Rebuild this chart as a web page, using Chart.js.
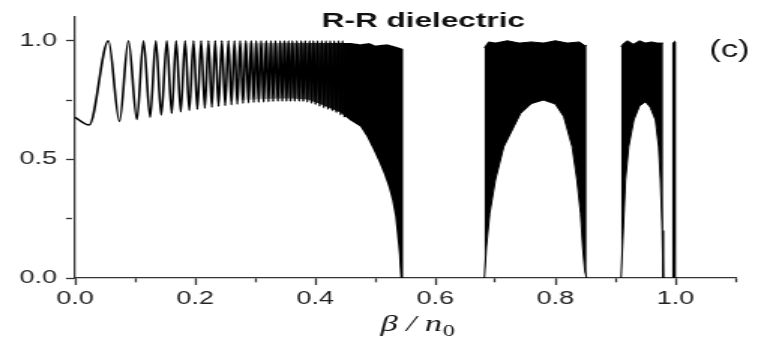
<!DOCTYPE html>
<html>
<head>
<meta charset="utf-8">
<script src="https://cdn.jsdelivr.net/npm/chart.js@4/dist/chart.umd.min.js"></script>
<style>
  html, body { margin: 0; padding: 0; background: #fff; }
  /* the figure is laid out narrow and stretched sideways, like the printed panel */
  #wrap { width: 507px; height: 342px; transform: scaleX(1.50099); transform-origin: 0 0; }
</style>
</head>
<body>
<div id="wrap"><canvas id="rr" width="507" height="342"></canvas></div>
<script>
// transmission vs beta/n0, R-R dielectric
const titleText = 'R-R dielectric';
const panelTag = '(c)';

// low-beta start of the curve (before the first fringe)
const fringeStart = [[0, 0.677], [0.0235, 0.645]];
// fringe maxima positions, all touching 1.0
const fringeTop = 1.0;
const peakX = [0.0555, 0.0889, 0.1139, 0.1345, 0.1528, 0.1683, 0.1833, 0.1972, 0.2100, 0.2222,
  0.2333, 0.2445, 0.2555, 0.2655, 0.2750, 0.2845, 0.2933, 0.3017, 0.3100, 0.3183,
  0.3262, 0.3338, 0.3417, 0.3488, 0.3555, 0.3620, 0.3695, 0.3767, 0.3833, 0.3905,
  0.3970, 0.4038, 0.4110, 0.4178, 0.4250, 0.4317, 0.4388, 0.4455];
// fringe minima following each maximum
const troughX = [0.0740, 0.1030, 0.1250, 0.1435, 0.1610, 0.1760, 0.1903, 0.2036, 0.2161, 0.2278,
  0.2389, 0.2500, 0.2605, 0.2703, 0.2798, 0.2889, 0.2975, 0.3058, 0.3142, 0.3222,
  0.3300, 0.3378, 0.3452, 0.3522, 0.3588, 0.3658, 0.3731, 0.3800, 0.3869, 0.3938,
  0.4004, 0.4074, 0.4144, 0.4214, 0.4284, 0.4352, 0.4422, 0.4490];
const troughY = [0.660, 0.668, 0.677, 0.687, 0.694, 0.700, 0.706, 0.711, 0.716, 0.720,
  0.724, 0.727, 0.730, 0.733, 0.736, 0.738, 0.740, 0.741, 0.742, 0.743,
  0.744, 0.745, 0.745, 0.745, 0.745, 0.745, 0.745, 0.744, 0.742, 0.737,
  0.731, 0.724, 0.717, 0.711, 0.705, 0.697, 0.687, 0.678];

// dense oscillation bands: upper and lower envelopes
const band1Top = [[0.26, 0.99], [0.40, 0.99], [0.44, 0.99], [0.46, 0.99], [0.475, 0.985], [0.49, 0.99],
  [0.50, 0.98], [0.52, 0.985], [0.535, 0.975], [0.547, 0.965]];
const band1Bottom = [[0.26, 0.745], [0.30, 0.752], [0.33, 0.755], [0.36, 0.756], [0.387, 0.752], [0.408, 0.733],
  [0.425, 0.715], [0.442, 0.697], [0.458, 0.665], [0.475, 0.638], [0.486, 0.595], [0.497, 0.539], [0.506, 0.49],
  [0.514, 0.442], [0.522, 0.385], [0.528, 0.328], [0.533, 0.26], [0.536, 0.189], [0.5395, 0.10],
  [0.5405, 0.046], [0.542, 0], [0.547, 0]];
const band2Top = [[0.6817, 0.97], [0.689, 0.995], [0.70, 0.99], [0.72, 1.0], [0.74, 0.99], [0.76, 0.995],
  [0.78, 0.99], [0.80, 1.0], [0.82, 0.99], [0.84, 0.995], [0.849, 0.98], [0.852, 0.98]];
const band2Bottom = [[0.6817, 0], [0.685, 0.131], [0.6906, 0.272], [0.70, 0.413], [0.714, 0.553],
  [0.742, 0.694], [0.76, 0.735], [0.78, 0.75], [0.80, 0.733], [0.814, 0.68], [0.828, 0.553],
  [0.836, 0.413], [0.842, 0.272], [0.8455, 0.131], [0.849, 0.03], [0.852, 0]];
const band3Top = [[0.9094, 0.975], [0.914, 0.99], [0.92, 1.0], [0.93, 0.985], [0.94, 1.0], [0.95, 0.99],
  [0.96, 0.995], [0.97, 0.99], [0.9795, 0.99]];
const band3Bottom = [[0.9094, 0], [0.913, 0.2], [0.9167, 0.413], [0.922, 0.553], [0.9306, 0.666],
  [0.94, 0.725], [0.95, 0.743], [0.958, 0.72], [0.9667, 0.666], [0.972, 0.553], [0.975, 0.413],
  [0.978, 0.2], [0.9795, 0]];
// narrow spike at beta/n0 = 1
const edgeSpike = [[0.9958, 0], [0.9962, 0.99], [0.9985, 0.995], [0.9992, 0.35], [0.9995, 0]];

const toPts = arr => arr.map(([x, y]) => ({x, y}));

const fringe = toPts(fringeStart);
peakX.forEach((px, i) => {
  fringe.push({x: px, y: fringeTop});
  fringe.push({x: troughX[i], y: troughY[i]});
});

// shade between the packed fringes, getting solid towards 0.45
function band1Fill(c) {
  const chart = c.chart;
  const xs = chart.scales.x;
  if (!chart.chartArea || !xs || !xs.width) return '#000';
  const x0 = xs.getPixelForValue(0.26);
  const x1 = xs.getPixelForValue(0.45);
  const g = chart.ctx.createLinearGradient(x0, 0, x1, 0);
  g.addColorStop(0, 'rgba(0,0,0,0)');
  g.addColorStop(0.35, 'rgba(0,0,0,0.45)');
  g.addColorStop(0.7, 'rgba(0,0,0,0.8)');
  g.addColorStop(1, 'rgba(0,0,0,1)');
  return g;
}

const labels = {
  id: 'labels',
  afterDraw(chart) {
    const ctx = chart.ctx;
    ctx.save();
    ctx.fillStyle = '#111';
    ctx.textBaseline = 'alphabetic';
    ctx.textAlign = 'center';
    ctx.font = 'bold 21px "Liberation Sans", Arial, sans-serif';
    ctx.fillText(titleText, 282, 27);
    ctx.font = '23px "Liberation Sans", Arial, sans-serif';
    ctx.fillText(panelTag, 486, 57);

    // axis title: beta / n with subscript 0
    ctx.textAlign = 'left';
    ctx.font = 'italic 23px "Liberation Serif", "Times New Roman", serif';
    const main = '\u03b2 / n';
    const wMain = ctx.measureText(main).width;
    ctx.font = '16px "Liberation Serif", "Times New Roman", serif';
    const wSub = ctx.measureText('0').width;
    const x0 = 278 - (wMain + wSub) / 2;
    ctx.font = 'italic 23px "Liberation Serif", "Times New Roman", serif';
    ctx.fillText(main, x0, 331);
    ctx.font = '16px "Liberation Serif", "Times New Roman", serif';
    ctx.fillText('0', x0 + wMain + 0.5, 336);
    ctx.restore();
  }
};

const tickFont = {family: '"Liberation Sans", Arial, sans-serif', size: 18};
const axisColor = '#333';

new Chart(document.getElementById('rr'), {
  type: 'line',
  data: {
    datasets: [
      {data: fringe, borderColor: '#000', borderWidth: 1.6, cubicInterpolationMode: 'monotone', fill: false},
      {data: toPts(band1Top), borderColor: 'rgba(0,0,0,0)', borderWidth: 0, fill: false},
      {data: toPts(band1Bottom), borderColor: 'rgba(0,0,0,0)', borderWidth: 0,
        fill: {target: 1, above: band1Fill, below: band1Fill}, backgroundColor: band1Fill},
      {data: toPts(band2Top), borderColor: '#000', borderWidth: 1, fill: false},
      {data: toPts(band2Bottom), borderColor: '#000', borderWidth: 1, fill: '-1', backgroundColor: '#000'},
      {data: toPts(band3Top), borderColor: '#000', borderWidth: 1, fill: false},
      {data: toPts(band3Bottom), borderColor: '#000', borderWidth: 1, fill: '-1', backgroundColor: '#000'},
      {data: toPts(edgeSpike), borderColor: '#000', borderWidth: 1.2, fill: false}
    ]
  },
  options: {
    responsive: false,
    animation: false,
    devicePixelRatio: 1,
    layout: {padding: {left: 0, right: 17, top: 17, bottom: 0}},
    elements: {point: {radius: 0}, line: {tension: 0}},
    plugins: {legend: {display: false}, tooltip: {enabled: false}, title: {display: false}},
    scales: {
      x: {
        type: 'linear', min: 0, max: 1.1,
        border: {display: true, color: axisColor, width: 1.3},
        grid: {
          drawOnChartArea: false, drawTicks: true, tickLength: 7, tickColor: axisColor, tickWidth: 1.3,
          tickBorderDash: c => (c.index % 2 ? [4, 100] : [])
        },
        ticks: {
          stepSize: 0.1, padding: 3, color: '#222', font: tickFont, maxRotation: 0, autoSkip: false,
          callback: (v, i) => (i % 2 ? '' : v.toFixed(1))
        },
        afterFit: s => { s.height = 64; }
      },
      y: {
        type: 'linear', min: 0, max: 1.1,
        border: {display: true, color: axisColor, width: 1.3},
        grid: {
          drawOnChartArea: false, drawTicks: true, tickLength: 6, tickColor: axisColor, tickWidth: 1.3,
          tickBorderDash: c => (c.index % 2 ? [4, 100] : [])
        },
        ticks: {
          stepSize: 0.25, includeBounds: false, padding: 6, color: '#222', font: tickFont,
          callback: (v, i) => (i % 2 ? '' : v.toFixed(1))
        },
        afterFit: s => { s.width = 50; }
      }
    }
  },
  plugins: [labels]
});
</script>
</body>
</html>
